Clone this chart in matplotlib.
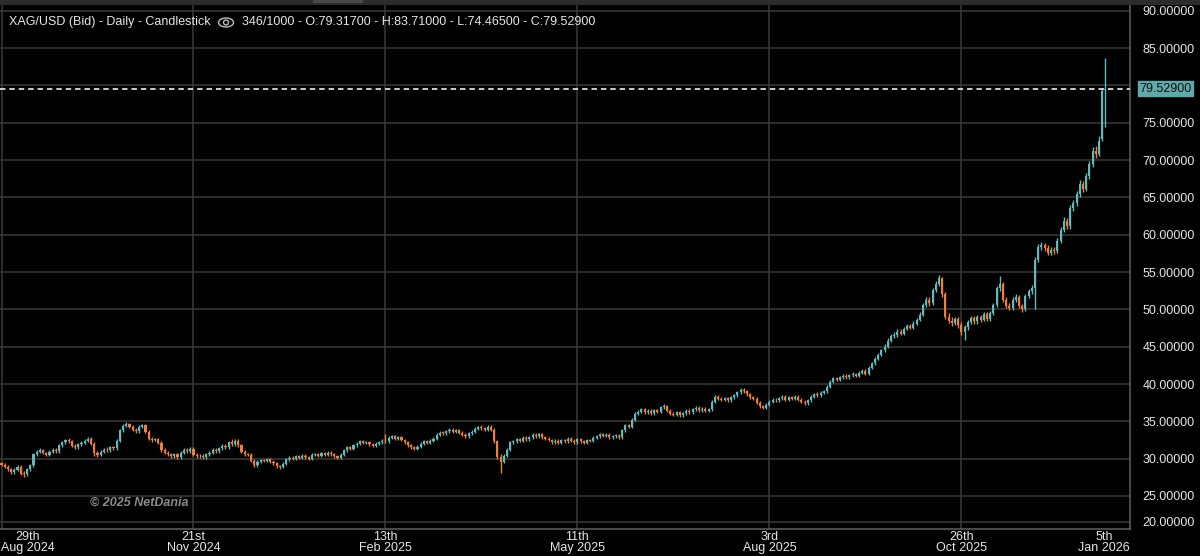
import matplotlib
matplotlib.use("Agg")
import matplotlib.pyplot as plt
from matplotlib.patches import Rectangle, Ellipse, Circle
import matplotlib.transforms as mtransforms
import numpy as np

# ---------------- data ----------------
title_left = "XAG/USD (Bid) - Daily - Candlestick"
title_right = "346/1000 - O:79.31700 - H:83.71000 - L:74.46500 - C:79.52900"
last_price = 79.529
last_label = "79.52900"

closes = [
    29.2, 28.9, 28.6, 28.2, 28.5, 28.9, 28.0, 27.9, 28.6, 29.1,
    30.6, 30.9, 31.1, 30.8, 30.5, 30.9, 31.2, 31.0, 31.8, 32.2,
    32.5, 32.3, 31.7, 31.5, 31.9, 32.1, 32.4, 32.7, 32.0, 30.8,
    30.5, 30.9, 31.2, 31.1, 31.5, 31.4, 32.4, 33.8, 34.4, 34.6,
    34.3, 33.9, 33.7, 34.3, 34.5, 33.6, 32.7, 32.5, 32.6, 32.1,
    31.1, 30.8, 30.6, 30.3, 30.6, 30.2, 30.8, 31.2, 31.0, 31.3,
    30.5, 30.3, 30.4, 30.2, 30.6, 30.8, 31.2, 31.0, 31.4, 31.7,
    31.5, 32.2, 31.9, 32.4, 31.8, 30.9, 30.6, 30.5, 29.7, 29.1,
    29.6, 29.8, 29.7, 29.9, 29.6, 29.4, 29.0, 28.9, 29.3, 29.9,
    30.1, 30.0, 30.3, 30.1, 30.4, 30.2, 30.0, 30.5, 30.6, 30.4,
    30.7, 30.5, 30.8, 30.6, 30.3, 30.1, 30.5, 31.1, 31.5, 31.3,
    31.8, 32.0, 32.3, 32.1, 32.2, 31.9, 31.7, 32.0, 32.2, 32.4,
    32.3, 32.8, 33.0, 32.7, 32.9, 32.5, 32.2, 31.8, 31.5, 31.3,
    31.6, 32.0, 32.3, 32.1, 32.4, 32.7, 33.2, 33.5, 33.4, 33.7,
    33.9, 33.6, 33.8, 33.5, 33.2, 33.0, 33.4, 33.6, 34.0, 34.2,
    34.1, 33.9, 34.3, 33.9, 32.3, 30.2, 29.6, 30.4, 31.2, 32.2,
    32.3, 32.6, 32.4, 32.8, 32.6, 32.9, 33.2, 33.0, 33.3, 32.9,
    32.7, 32.5, 32.2, 32.4, 32.1, 32.5, 32.3, 32.7, 32.4, 32.2,
    32.6, 32.3, 32.1, 32.5, 32.4, 32.8, 33.0, 33.3, 33.1, 33.2,
    32.9, 33.0, 33.1, 32.9, 33.8, 34.5, 34.3, 35.2, 36.0, 36.3,
    36.6, 36.2, 36.4, 36.1, 36.5, 36.3, 36.9, 37.0, 36.4, 36.0,
    35.9, 36.2, 35.8, 36.1, 36.4, 36.2, 36.6, 36.8, 36.5, 36.7,
    36.4, 36.6, 37.6, 38.3, 38.0, 37.9, 38.1, 37.8, 38.2, 38.5,
    38.9, 39.2, 39.0, 38.6, 38.2, 38.0, 37.5, 37.0, 36.8, 37.2,
    37.6, 37.9, 37.8, 38.1, 38.3, 37.9, 38.2, 38.0, 38.3, 37.9,
    37.6, 37.4, 37.8, 38.3, 38.6, 38.5, 38.8, 39.0, 39.6, 40.3,
    40.8, 40.6, 40.9, 41.1, 40.9, 41.2, 41.3, 41.1, 41.5, 41.8,
    41.4, 42.2, 42.8, 43.4, 43.9, 44.5, 45.0, 45.8, 46.4, 46.6,
    47.0, 46.7, 47.4, 47.8, 47.5, 48.1, 48.6, 49.3, 50.6, 51.2,
    50.8, 52.6, 53.4, 54.2, 52.0, 49.0, 48.5, 48.2, 48.7, 47.9,
    47.0, 47.6, 48.3, 48.8, 48.4, 49.0, 48.6, 49.4, 48.7, 49.5,
    50.6, 52.8, 53.4, 51.2, 50.5, 50.2, 51.3, 51.6, 50.4, 50.0,
    51.8, 52.4, 52.9, 56.6, 58.3, 58.6, 58.2, 57.6, 58.0, 57.8,
    59.2, 60.6, 61.8, 61.1, 63.6, 64.2, 65.4, 66.8, 66.1, 67.8,
    69.4, 71.2, 70.8, 72.6, 79.3, 79.529,
]

opens = [
    29.4, 29.2, 28.9, 28.6, 28.2, 28.5, 28.9, 28.0, 27.9, 28.6,
    29.1, 30.6, 30.9, 31.1, 30.8, 30.5, 30.9, 31.2, 31.0, 31.8,
    32.2, 32.5, 32.3, 31.7, 31.5, 31.9, 32.1, 32.4, 32.7, 32.0,
    30.8, 30.5, 30.9, 31.2, 31.1, 31.5, 31.4, 32.4, 33.8, 34.4,
    34.6, 34.3, 33.9, 33.7, 34.3, 34.5, 33.6, 32.7, 32.5, 32.6,
    32.1, 31.1, 30.8, 30.6, 30.3, 30.6, 30.2, 30.8, 31.2, 31.0,
    31.3, 30.5, 30.3, 30.4, 30.2, 30.6, 30.8, 31.2, 31.0, 31.4,
    31.7, 31.5, 32.2, 31.9, 32.4, 31.8, 30.9, 30.6, 30.5, 29.7,
    29.1, 29.6, 29.8, 29.7, 29.9, 29.6, 29.4, 29.0, 28.9, 29.3,
    29.9, 30.1, 30.0, 30.3, 30.1, 30.4, 30.2, 30.0, 30.5, 30.6,
    30.4, 30.7, 30.5, 30.8, 30.6, 30.3, 30.1, 30.5, 31.1, 31.5,
    31.3, 31.8, 32.0, 32.3, 32.1, 32.2, 31.9, 31.7, 32.0, 32.2,
    32.4, 32.3, 32.8, 33.0, 32.7, 32.9, 32.5, 32.2, 31.8, 31.5,
    31.3, 31.6, 32.0, 32.3, 32.1, 32.4, 32.7, 33.2, 33.5, 33.4,
    33.7, 33.9, 33.6, 33.8, 33.5, 33.2, 33.0, 33.4, 33.6, 34.0,
    34.2, 34.1, 33.9, 34.3, 33.9, 32.3, 30.2, 29.6, 30.4, 31.2,
    32.2, 32.3, 32.6, 32.4, 32.8, 32.6, 32.9, 33.2, 33.0, 33.3,
    32.9, 32.7, 32.5, 32.2, 32.4, 32.1, 32.5, 32.3, 32.7, 32.4,
    32.2, 32.6, 32.3, 32.1, 32.5, 32.4, 32.8, 33.0, 33.3, 33.1,
    33.2, 32.9, 33.0, 33.1, 32.9, 33.8, 34.5, 34.3, 35.2, 36.0,
    36.3, 36.6, 36.2, 36.4, 36.1, 36.5, 36.3, 36.9, 37.0, 36.4,
    36.0, 35.9, 36.2, 35.8, 36.1, 36.4, 36.2, 36.6, 36.8, 36.5,
    36.7, 36.4, 36.6, 37.6, 38.3, 38.0, 37.9, 38.1, 37.8, 38.2,
    38.5, 38.9, 39.2, 39.0, 38.6, 38.2, 38.0, 37.5, 37.0, 36.8,
    37.2, 37.6, 37.9, 37.8, 38.1, 38.3, 37.9, 38.2, 38.0, 38.3,
    37.9, 37.6, 37.4, 37.8, 38.3, 38.6, 38.5, 38.8, 39.0, 39.6,
    40.3, 40.8, 40.6, 40.9, 41.1, 40.9, 41.2, 41.3, 41.1, 41.5,
    41.8, 41.4, 42.2, 42.8, 43.4, 43.9, 44.5, 45.0, 45.8, 46.4,
    46.6, 47.0, 46.7, 47.4, 47.8, 47.5, 48.1, 48.6, 49.3, 50.6,
    51.2, 50.8, 52.6, 53.4, 54.2, 52.0, 49.0, 48.5, 48.2, 48.7,
    47.9, 47.0, 47.6, 48.3, 48.8, 48.4, 49.0, 48.6, 49.4, 48.7,
    49.5, 50.6, 52.8, 53.4, 51.2, 50.5, 50.2, 51.3, 51.6, 50.4,
    50.0, 51.8, 52.4, 52.9, 56.6, 58.3, 58.6, 58.2, 57.6, 58.0,
    57.8, 59.2, 60.6, 61.8, 61.1, 63.6, 64.2, 65.4, 66.8, 66.1,
    67.8, 69.4, 71.2, 70.8, 72.8, 79.317,
]

highs = [
    29.6, 29.4, 29.1, 28.8, 28.7, 29.1, 29.1, 28.3, 28.8, 29.3,
    30.8, 31.1, 31.4, 31.3, 30.9, 31.1, 31.4, 31.4, 32.0, 32.4,
    32.7, 32.8, 32.5, 31.9, 32.1, 32.3, 32.6, 32.9, 32.9, 32.2,
    31.0, 31.1, 31.4, 31.5, 31.7, 31.7, 32.6, 34.0, 34.7, 34.9,
    34.8, 34.5, 34.1, 34.5, 34.7, 34.6, 33.8, 32.9, 32.8, 32.8,
    32.3, 31.4, 31.0, 30.8, 30.8, 30.8, 31.0, 31.4, 31.4, 31.5,
    31.5, 30.7, 30.6, 30.6, 30.8, 31.0, 31.4, 31.4, 31.6, 31.9,
    31.9, 32.4, 32.6, 32.6, 32.6, 32.0, 31.1, 30.8, 30.7, 29.9,
    29.8, 30.0, 30.0, 30.1, 30.1, 29.8, 29.6, 29.2, 29.5, 30.1,
    30.3, 30.3, 30.5, 30.5, 30.6, 30.6, 30.4, 30.7, 30.8, 30.8,
    30.9, 30.9, 31.0, 31.0, 30.8, 30.5, 30.7, 31.3, 31.7, 31.7,
    32.0, 32.2, 32.5, 32.5, 32.4, 32.4, 32.1, 32.2, 32.4, 32.6,
    33.3, 33.0, 33.2, 33.2, 33.1, 33.1, 32.7, 32.4, 32.0, 31.7,
    31.8, 32.2, 32.5, 32.5, 32.6, 32.9, 33.4, 33.7, 33.7, 33.9,
    34.1, 34.1, 34.0, 34.0, 33.7, 33.4, 33.6, 33.8, 34.2, 34.4,
    34.5, 34.3, 34.5, 34.5, 34.1, 32.5, 30.6, 30.6, 31.4, 32.4,
    32.5, 32.8, 32.8, 33.0, 33.0, 33.1, 33.4, 33.4, 33.5, 33.5,
    33.1, 32.9, 32.7, 32.6, 32.6, 32.7, 32.7, 32.9, 32.9, 32.6,
    32.8, 32.8, 32.5, 32.7, 32.7, 33.0, 33.2, 33.5, 33.5, 33.4,
    33.4, 33.2, 33.3, 33.3, 34.0, 34.7, 34.7, 35.4, 36.2, 36.5,
    36.8, 36.8, 36.6, 36.6, 36.7, 36.7, 37.1, 37.3, 37.2, 36.6,
    36.2, 36.4, 36.4, 36.3, 36.6, 36.6, 36.8, 37.0, 37.0, 36.9,
    36.9, 36.8, 37.8, 38.5, 38.5, 38.2, 38.3, 38.3, 38.4, 38.7,
    39.1, 39.5, 39.4, 39.2, 38.8, 38.4, 38.2, 37.7, 37.2, 37.4,
    37.8, 38.1, 38.1, 38.3, 38.5, 38.5, 38.4, 38.4, 38.5, 38.5,
    38.1, 37.8, 38.0, 38.5, 38.8, 38.9, 39.0, 39.2, 39.8, 40.5,
    41.0, 41.0, 41.1, 41.4, 41.3, 41.4, 41.6, 41.5, 41.7, 42.0,
    42.0, 42.4, 43.0, 43.6, 44.1, 44.7, 45.3, 46.1, 46.7, 47.0,
    47.4, 47.3, 47.7, 48.1, 48.0, 48.4, 48.9, 49.6, 50.9, 51.6,
    51.6, 52.9, 53.8, 54.6, 54.3, 52.3, 49.5, 49.0, 49.0, 49.0,
    48.3, 47.9, 48.6, 49.1, 49.1, 49.3, 49.2, 49.7, 49.7, 49.8,
    50.9, 53.1, 54.4, 53.7, 51.6, 50.9, 51.6, 52.0, 51.9, 50.7,
    52.1, 52.7, 53.3, 57.0, 58.7, 59.0, 58.9, 58.6, 58.4, 58.3,
    59.6, 61.0, 62.3, 62.2, 64.0, 64.7, 65.9, 67.3, 67.2, 68.3,
    69.9, 71.8, 71.9, 73.2, 79.6, 83.71,
]

lows = [
    29.0, 28.7, 28.4, 27.9, 28.0, 28.3, 27.8, 27.6, 27.7, 28.4,
    28.9, 30.4, 30.7, 30.6, 30.3, 30.3, 30.7, 30.8, 30.8, 31.6,
    32.0, 32.1, 31.5, 31.3, 31.3, 31.7, 31.9, 32.2, 31.8, 30.3,
    30.2, 30.3, 30.7, 30.9, 30.9, 31.2, 31.2, 32.2, 33.6, 34.2,
    34.1, 33.7, 33.5, 33.5, 34.1, 33.4, 32.5, 32.2, 32.3, 31.9,
    30.9, 30.6, 30.4, 30.1, 30.1, 30.0, 30.0, 30.6, 30.8, 30.8,
    30.3, 30.1, 30.1, 30.0, 30.0, 30.4, 30.6, 30.8, 30.8, 31.2,
    31.3, 31.3, 31.7, 31.7, 31.6, 30.7, 30.4, 30.3, 29.5, 28.9,
    28.9, 29.4, 29.5, 29.5, 29.4, 29.2, 28.8, 28.6, 28.7, 29.1,
    29.7, 29.8, 29.8, 29.9, 29.9, 30.0, 29.8, 29.8, 30.3, 30.2,
    30.2, 30.3, 30.3, 30.4, 30.1, 29.9, 29.9, 30.3, 30.9, 31.1,
    31.1, 31.6, 31.8, 31.9, 31.9, 31.7, 31.5, 31.5, 31.8, 32.0,
    32.1, 32.1, 32.6, 32.5, 32.5, 32.3, 32.0, 31.6, 31.3, 31.1,
    31.1, 31.4, 31.8, 31.9, 31.9, 32.2, 32.5, 33.0, 33.2, 33.2,
    33.5, 33.4, 33.4, 33.3, 33.0, 32.8, 32.8, 33.2, 33.4, 33.8,
    33.9, 33.7, 33.7, 33.7, 32.1, 30.0, 28.1, 29.4, 30.2, 31.0,
    32.0, 32.1, 32.2, 32.2, 32.4, 32.4, 32.7, 32.8, 32.8, 32.7,
    32.5, 32.3, 32.0, 32.0, 31.9, 31.9, 32.1, 32.1, 32.2, 32.0,
    32.0, 32.1, 31.9, 31.9, 32.2, 32.2, 32.6, 32.8, 32.9, 32.9,
    32.7, 32.7, 32.8, 32.7, 32.7, 33.6, 34.1, 34.1, 35.0, 35.8,
    36.1, 36.0, 36.0, 35.9, 35.9, 36.1, 36.1, 36.7, 36.2, 35.8,
    35.7, 35.7, 35.6, 35.6, 35.9, 36.0, 36.0, 36.4, 36.3, 36.3,
    36.2, 36.2, 36.4, 37.4, 37.8, 37.7, 37.7, 37.6, 37.6, 38.0,
    38.3, 38.7, 38.8, 38.4, 38.0, 37.8, 37.3, 36.8, 36.6, 36.6,
    37.0, 37.4, 37.6, 37.6, 37.9, 37.7, 37.7, 37.8, 37.8, 37.7,
    37.4, 37.2, 37.2, 37.6, 38.1, 38.3, 38.3, 38.6, 38.8, 39.4,
    40.1, 40.4, 40.4, 40.7, 40.7, 40.7, 41.0, 40.9, 40.9, 41.3,
    41.2, 41.2, 42.0, 42.6, 43.2, 43.7, 44.3, 44.8, 45.6, 46.1,
    46.3, 46.5, 46.5, 47.2, 47.3, 47.3, 47.9, 48.4, 49.1, 50.3,
    50.5, 50.6, 52.3, 53.1, 51.7, 48.7, 48.2, 47.8, 47.9, 47.5,
    46.5, 45.9, 47.2, 48.0, 48.1, 48.1, 48.3, 48.4, 48.4, 48.4,
    49.3, 50.3, 52.5, 51.0, 50.2, 49.9, 49.9, 51.0, 50.2, 49.6,
    49.8, 51.5, 52.1, 50.0, 56.3, 57.9, 57.8, 57.3, 57.3, 57.4,
    57.5, 58.9, 60.3, 60.7, 60.8, 63.2, 63.9, 65.0, 65.7, 65.8,
    67.5, 69.1, 70.3, 70.5, 72.5, 74.465,
]

price_ticks = [25, 30, 35, 40, 45, 50, 55, 60, 65, 70, 75, 80, 85, 90]
date_tick_idx = [0, 60, 120, 180, 240, 300, 345]
date_labels = ["29th\nAug 2024", "21st\nNov 2024", "13th\nFeb 2025", "11th\nMay 2025",
               "3rd\nAug 2025", "26th\nOct 2025", "5th\nJan 2026"]
watermark = "\u00a9 2025 NetDania"

# ---------------- style ----------------
UP = "#67b8b8"
DOWN = "#f07c3e"
GRID = "#353535"
BORDER = "#5a5a5a"
TXT = "#e6e6e6"
FONT = "Liberation Sans"
plt.rcParams['font.family'] = [FONT, 'DejaVu Sans']

W, H = 1200, 556
fig = plt.figure(figsize=(W / 100, H / 100), dpi=100, facecolor="black")

ax_left, ax_right, ax_top, ax_bot = 0, 1130, 5, 529
ax = fig.add_axes([ax_left / W, 1 - ax_bot / H, (ax_right - ax_left) / W, (ax_bot - ax_top) / H])
ax.set_facecolor("black")

o = np.array(opens); c = np.array(closes); hi = np.array(highs); lo = np.array(lows)
x = np.arange(len(c))
up = c >= o
cols = np.where(up, UP, DOWN)

ax.vlines(x, lo, hi, colors=cols, linewidth=1.0, zorder=3)
body_bottom = np.minimum(o, c)
body_h = np.maximum(np.abs(c - o), 0.12)
ax.bar(x, body_h, bottom=body_bottom, width=0.66, color=cols, linewidth=0, zorder=4)

ax.set_xlim(-0.47, 352.7)
ax.set_ylim(20.58, 90.76)

# gridlines
for v in price_ticks:
    ax.axhline(v, color=GRID, lw=1.2, zorder=1)
ax.axhline(21.52, color=GRID, lw=1.2, zorder=1)
for i in date_tick_idx[:-1]:
    ax.axvline(i, color=GRID, lw=1.2, zorder=1)

# last price dashed line
ax.axhline(last_price, color="#dcdcdc", lw=1.3, ls=(0, (3, 2.2)), zorder=5)

# spines
for s in ["left", "top"]:
    ax.spines[s].set_visible(False)
for s in ["right", "bottom"]:
    ax.spines[s].set_color(BORDER)
    ax.spines[s].set_linewidth(1.2)

ax.set_xticks([])
ax.yaxis.tick_right()
yt = price_ticks + [21.52]
ax.set_yticks(yt)
ax.set_yticklabels([f"{v:.5f}" for v in price_ticks] + ["20.00000"])
ax.tick_params(axis="y", length=0, pad=9, labelcolor=TXT, labelsize=9)
for lab in ax.get_yticklabels():
    lab.set_fontfamily(FONT)
    if lab.get_text() == "80.00000":
        lab.set_visible(False)

# last price tag
ax.text(1.0 + 9 / (ax_right - ax_left), last_price, last_label, transform=ax.get_yaxis_transform(),
        ha="left", va="center", fontsize=9, color="#111111", fontfamily=FONT,
        bbox=dict(boxstyle="square,pad=0.12", fc="#5fa9aa", ec="#5fa9aa"), zorder=10, clip_on=False)

# date labels (x in data coords, y in axes coords)
trans = mtransforms.blended_transform_factory(ax.transData, ax.transAxes)
ylab = -(542.5 - ax_bot) / (ax_bot - ax_top)
for i, lab in zip(date_tick_idx, date_labels):
    xi = i
    if i == 0:
        xi = (28 - 1.5) / 3.2
    if i == 345:
        xi = (1104 - 1.5) / 3.2
    ax.text(xi, ylab, lab, transform=trans, ha="center", va="center", multialignment="center",
            fontsize=9, color=TXT, linespacing=0.95, fontfamily=FONT, clip_on=False)

# header band
fig.add_artist(Rectangle((0, 1 - 4.5 / H), 1, 4.5 / H, transform=fig.transFigure, fc="#2c2c2c", ec="none"))
fig.add_artist(Rectangle((313 / W, 1 - 3 / H), 50 / W, 3 / H, transform=fig.transFigure, fc="#4a4a4a", ec="none"))

# title
fig.text(9 / W, 1 - 22 / H, title_left, ha="left", va="center", fontsize=9, color=TXT, fontfamily=FONT)
fig.text(242 / W, 1 - 22 / H, title_right, ha="left", va="center", fontsize=9, color=TXT, fontfamily=FONT)
# eye icon
fig.add_artist(Ellipse((226 / W, 1 - 22.5 / H), 15 / W, 9 / H, transform=fig.transFigure,
                       fill=False, ec="#bdbdbd", lw=1.0))
fig.add_artist(Ellipse((226 / W, 1 - 22.5 / H), 5 / W, 5 / H, transform=fig.transFigure,
                       fill=False, ec="#bdbdbd", lw=1.0))

# watermark
fig.text(90 / W, 1 - 502.5 / H, watermark, ha="left", va="center", fontsize=9, color="#8a8a8a",
         fontweight="bold", fontstyle="italic", fontfamily=FONT)

fig.savefig("out.png", dpi=100, facecolor="black")
